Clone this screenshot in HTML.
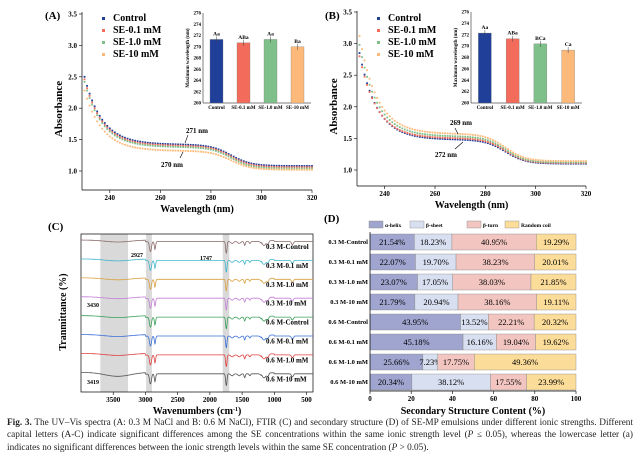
<!DOCTYPE html>
<html><head><meta charset="utf-8"><style>
body{margin:0;background:#fff;width:639px;height:464px;overflow:hidden}
svg{display:block}
text{font-family:"Liberation Serif",serif}
.t{font-size:7px;font-weight:bold}
.n{font-size:8.5px;font-weight:normal}
.ti{font-size:5px;font-weight:bold}
.ax{font-size:10px;font-weight:bold}
.lg{font-size:10px;font-weight:bold}
.cap{position:absolute;left:7px;top:417px;width:626px;font:9.25px/12.4px "Liberation Serif",serif;text-align:justify;color:#222}
</style></head><body>
<svg id="s" width="639" height="464" xmlns="http://www.w3.org/2000/svg"></svg>
<div class="cap"><b>Fig. 3.</b> The UV–Vis spectra (A: 0.3 M NaCl and B: 0.6 M NaCl), FTIR (C) and secondary structure (D) of SE-MP emulsions under different ionic strengths. Different capital letters (A-C) indicate significant differences among the SE concentrations within the same ionic strength level (<i>P</i> ≤ 0.05), whereas the lowercase letter (a) indicates no significant differences between the ionic strength levels within the same SE concentration (<i>P</i> &gt; 0.05).</div>
<script>
const S=document.getElementById('s');let h='';
const C=['#1f3f99','#f26b5b','#7fc08a','#fdb97a'];
function txt(x,y,s,cls,anc,extra){h+=`<text x="${x}" y="${y}" class="${cls}" text-anchor="${anc||'start'}" ${extra||''}>${s}</text>`;}
function uv(ox,x0,x1,yTop,yBot,y35,y10,ser,lab,labs,inset){
 const X=l=>x0+(l-229)*(x1-x0)/(320-229), Y=a=>y10-(a-1)*(y10-y35)/2.5;
 h+=`<line x1="${x0}" y1="${yTop}" x2="${x0}" y2="${yBot}" stroke="#000" stroke-width="0.7"/><line x1="${x0}" y1="${yBot}" x2="${x1}" y2="${yBot}" stroke="#000" stroke-width="0.7"/>`;
 for(let v=1;v<=3.51;v+=0.5){const y=Y(v);h+=`<line x1="${x0-3}" y1="${y}" x2="${x0}" y2="${y}" stroke="#000" stroke-width="0.6"/>`;txt(x0-5,y+2.5,v.toFixed(1),'t','end');}
 for(let l=240;l<=320;l+=20){const x=X(l);h+=`<line x1="${x}" y1="${yBot}" x2="${x}" y2="${yBot+3}" stroke="#000" stroke-width="0.6"/>`;txt(x,yBot+10,l,'t','middle');}
 txt((x0+x1)/2,yBot+22,'Wavelength (nm)','ax','middle');
 txt(x0-20,(yTop+yBot)/2+8,'Absorbance','ax','middle',`transform="rotate(-90 ${x0-20} ${(yTop+yBot)/2+8})" style="font-size:11px"`);
 txt(ox,19,lab,'lg','start','style="font-size:11px"');
 ser.forEach((p,i)=>{for(let l=230;l<=320;l+=1){const a=p[0]+p[1]/(1+Math.exp((l-288)/4))+p[2]*Math.exp(-(l-230)/7);h+=`<rect x="${X(l)-0.9}" y="${Y(a)-0.9}" width="1.8" height="1.8" fill="${C[i]}"/>`;}});
 ['Control','SE-0.1 mM','SE-1.0 mM','SE-10 mM'].forEach((n,i)=>{const y=21+i*12;h+=`<rect x="${x0+20}" y="${y-4}" width="3" height="3" fill="${C[i]}"/>`;txt(x0+31,y,n,'lg');});
 labs.forEach(q=>{txt(q[0],q[1],q[2],'t','middle');h+=`<line x1="${q[3]}" y1="${q[4]}" x2="${q[5]}" y2="${q[6]}" stroke="#000" stroke-width="0.6"/>`;});
 const [ix0,ix1,it,ib,vals,ls]=inset;const IY=v=>ib-(v-260)*(ib-it)/16;
 h+=`<line x1="${ix0}" y1="${it}" x2="${ix0}" y2="${ib}" stroke="#000" stroke-width="0.5"/><line x1="${ix0}" y1="${ib}" x2="${ix1}" y2="${ib}" stroke="#000" stroke-width="0.5"/>`;
 for(let v=260;v<=276;v+=2){txt(ix0-2,IY(v)+1.5,v,'ti','end');}
 txt(ix0-14,(it+ib)/2,'Maximum wavelength (nm)','ti','middle',`transform="rotate(-90 ${ix0-14} ${(it+ib)/2})"`);
 const bw=(ix1-ix0)/4;['Control','SE-0.1 mM','SE-1.0 mM','SE-10 mM'].forEach((n,i)=>{const cx=ix0+bw*(i+0.5),y=IY(vals[i]);h+=`<rect x="${cx-6.5}" y="${y}" width="13" height="${ib-y}" fill="${C[i]}" stroke="#777" stroke-width="0.3"/><line x1="${cx}" y1="${y-3}" x2="${cx}" y2="${y+3}" stroke="#444" stroke-width="0.5"/>`;txt(cx,y-4,ls[i],'ti','middle','style="font-size:5.5px"');txt(cx,ib+6,n,'ti','middle');});
}
uv(45,82,312,12,190,14,171,[[1.08,0.34,1.08],[1.06,0.34,1.06],[1.04,0.34,1.04],[1.02,0.30,0.96]],'(A)',
 [[197,133,'271 nm',188,135,185,143],[172,167,'270 nm',180,158,183,152]],[203,311,13,103,[271.3,270.7,271.3,270.0],['Aa','ABa','Aa','Ba']]);
uv(325,357,586,11,186,12,170,[[1.10,0.38,1.37],[1.11,0.39,1.30],[1.12,0.41,1.45],[1.14,0.43,1.55]],'(B)',
 [[461,125,'269 nm',455,128,458,134],[446,157,'272 nm',455,149,463,142]],[471,582,12,103,[272.3,271.3,270.4,269.3],['Aa','ABa','BCa','Ca']]);
(function(){const x0=81,x1=313,yT=234,yB=392,X=w=>x0+(4000-w)*(x1-x0)/3600;
 txt(48,230,'(C)','lg','start','style="font-size:11px"');
 [[3700,3270],[2990,2900],[1800,1700]].forEach(r=>h+=`<rect x="${X(r[0])}" y="${yT}" width="${X(r[1])-X(r[0])}" height="${yB-yT}" fill="#d9d9d9"/>`);
 h+=`<rect x="${x0}" y="${yT}" width="${x1-x0}" height="${yB-yT}" fill="none" stroke="#000" stroke-width="0.7"/>`;
 const dips=[[3430,200,2],[2922,15,10],[2852,10,8],[1745,10,12],[1655,20,2],[1545,20,2],[1460,10,4],[1380,10,2],[1160,30,5],[1100,15,3],[720,15,3]];
 const cols=['#8b6a6a','#3fb6cc','#d9a040','#c27fd6','#3aa05a','#3a6fd6','#e04040','#555'];
 const nm=['0.3 M-Control','0.3 M-0.1 mM','0.3 M-1.0 mM','0.3 M-10 mM','0.6 M-Control','0.6 M-0.1 mM','0.6 M-1.0 mM','0.6 M-10 mM'];
 cols.forEach((c,i)=>{const b=240+i*18.9;let d='';for(let w=4000;w>=400;w-=6){let y=b+(w<3000?1.5:0)+(w<1200&&w>1000?-1:0);dips.forEach(q=>{const z=(w-q[0])/q[1];y+=q[2]*Math.exp(-(z*z)/2)*(i==7&&q[0]==3430?2:1);});d+=(d?'L':'M')+X(w).toFixed(1)+' '+y.toFixed(1);}
  h+=`<path d="${d}" fill="none" stroke="${c}" stroke-width="0.8"/>`;txt(266,b+9,nm[i],'t','start');});
 txt(131,257,'2927','t','start','style="font-size:6px"');txt(200,260,'1747','t','start','style="font-size:6px"');txt(87,307,'3430','t','start','style="font-size:6px"');txt(87,384,'3419','t','start','style="font-size:6px"');
 for(let w=3500;w>=500;w-=500){const x=X(w);h+=`<line x1="${x}" y1="${yB}" x2="${x}" y2="${yB+3}" stroke="#000" stroke-width="0.6"/>`;txt(x,yB+10,w,'t','middle');}
 txt(197,414,'Wavenumbers (cm<tspan dy="-3" style="font-size:6px">-1</tspan><tspan dy="3">)</tspan>','ax','middle');
 txt(66,312,'Tranmittance (%)','ax','middle','transform="rotate(-90 66 312)"');
})();
(function(){const x0=370,x1=576,X=v=>x0+v*(x1-x0)/100;
 txt(324,222,'(D)','lg','start','style="font-size:11px"');
 const cc=['#9fa5cf','#d8dff0','#f2c5c0','#fbdc99'];
 [['α-helix',385],['β-sheet',426],['β-turn',483],['Random coil',521]].forEach((l,i)=>{h+=`<rect x="${l[1]-16}" y="${221}" width="14" height="7" fill="${cc[i]}" stroke="#888" stroke-width="0.4"/>`;txt(l[1],227,l[0],'ti','start','style="font-size:5.5px"');});
 const D=[['0.3 M-Control',21.54,18.23,40.95,19.29],['0.3 M-0.1 mM',22.07,19.70,38.23,20.01],['0.3 M-1.0 mM',23.07,17.05,38.03,21.85],['0.3 M-10 mM',21.79,20.94,38.16,19.11],['0.6 M-Control',43.95,13.52,22.21,20.32],['0.6 M-0.1 mM',45.18,16.16,19.04,19.62],['0.6 M-1.0 mM',25.66,7.23,17.75,49.36],['0.6 M-10 mM',20.34,38.12,17.55,23.99]];
 D.forEach((r,i)=>{const yc=242+i*20;let a=0;txt(368,yc+2,r[0],'t','end','style="font-size:6.5px"');
  for(let k=0;k<4;k++){const x=X(a),w=r[k+1]*(x1-x0)/100;h+=`<rect x="${x}" y="${yc-8}" width="${w}" height="16" fill="${cc[k]}" stroke="#888" stroke-width="0.4"/>`;txt(x+w/2,yc+3,r[k+1].toFixed(2)+'%','n','middle');a+=r[k+1];}});
 h+=`<line x1="${x0}" y1="232" x2="${x0}" y2="391" stroke="#000" stroke-width="0.7"/><line x1="${x0}" y1="391" x2="${x1}" y2="391" stroke="#000" stroke-width="0.7"/>`;
 for(let v=0;v<=100;v+=20){const x=X(v);h+=`<line x1="${x}" y1="391" x2="${x}" y2="394" stroke="#000" stroke-width="0.6"/>`;txt(x,401,v,'t','middle');}
 txt(473,414,'Secondary Structure Content (%)','ax','middle');
})();
S.innerHTML=h;
</script>
</body></html>
